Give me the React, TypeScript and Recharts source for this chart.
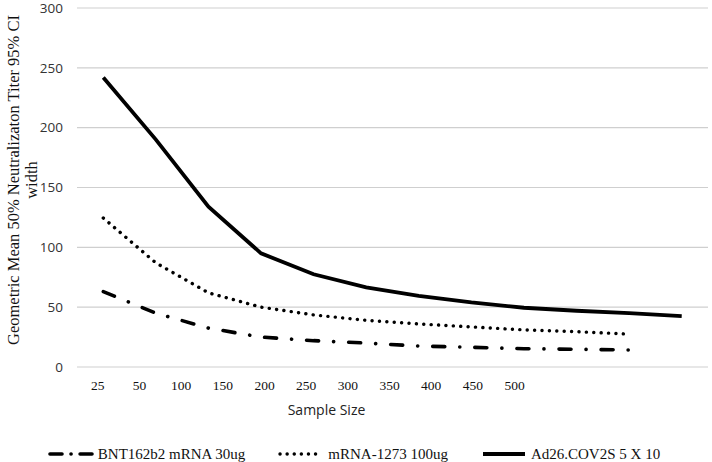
import React from 'react';
import { LineChart, Line, XAxis, YAxis, CartesianGrid, Legend } from 'recharts';

// sample sizes on the x axis (last slot has no label)
const sizes = ['25', '50', '100', '150', '200', '250', '300', '350', '400', '450', '500', ''];
const bnt = [63, 45, 32.5, 25, 22, 20, 17.5, 16.5, 15.3, 14.8, 14.2, null];
const mrna = [124.5, 87, 62, 50, 43.5, 39, 36, 33.5, 31, 29.5, 27.5, null];
const ad26 = [242, 190, 134, 95, 77.5, 66.5, 59.5, 54, 49.5, 47, 45, 42.5];
const yTicks = [0, 50, 100, 150, 200, 250, 300];

const seriesNames = ['BNT162b2 mRNA 30ug', 'mRNA-1273 100ug', 'Ad26.COV2S 5 X 10'];

const data = sizes.map((s, i) => ({ size: s, bnt: bnt[i], mrna: mrna[i], ad26: ad26[i] }));

const styles = [
  { key: 'bnt', dash: '12 15 0.1 15', legendDash: '12 9 0.1 9', width: 3.6 },
  { key: 'mrna', dash: '0.1 7.3', legendDash: '0.1 7', width: 3.4 },
  { key: 'ad26', dash: undefined, legendDash: undefined, width: 3.8 },
];

const YTitle = () => (
  <g fontFamily="'Liberation Serif', 'Times New Roman', serif" fontSize={16.5} fill="#111">
    <text x={13} y={180} transform="rotate(-90, 13, 180)" textAnchor="middle" dominantBaseline="central">
      Geometric Mean 50% Neutralizaton Titer 95% CI
    </text>
    <text x={31} y={180} transform="rotate(-90, 31, 180)" textAnchor="middle" dominantBaseline="central">
      width
    </text>
  </g>
);

const LegendContent = () => (
  <div
    style={{
      height: 24,
      display: 'flex',
      justifyContent: 'center',
      alignItems: 'flex-end',
      gap: 33,
      fontFamily: "'Liberation Serif', 'Times New Roman', serif",
      fontSize: 15,
      color: '#111',
    }}
  >
    {styles.map((st, i) => (
      <div key={st.key} style={{ display: 'flex', alignItems: 'center', height: 16 }}>
        <svg width={46} height={10} style={{ marginRight: 4 }}>
          <line
            x1={2}
            x2={44}
            y1={5}
            y2={5}
            stroke="#000"
            strokeWidth={st.width}
            strokeDasharray={st.legendDash}
            strokeLinecap={st.dash ? 'round' : 'butt'}
          />
        </svg>
        <span style={{ lineHeight: '16px', whiteSpace: 'nowrap' }}>{seriesNames[i]}</span>
      </div>
    ))}
  </div>
);

export default function App() {
  return (
    <div style={{ position: 'absolute', left: 0, top: 0, background: '#fff' }}>
      <LineChart width={712} height={462} data={data} margin={{ top: 8, right: 4, left: 0, bottom: 0 }}>
        <CartesianGrid vertical={false} stroke="#cfcfcf" strokeWidth={1.2} />
        <XAxis dataKey="size" scale="band" hide height={0} />
        <XAxis
          xAxisId="lbl"
          dataKey="size"
          scale="band"
          height={71}
          padding={{ left: 0, right: 131 }}
          axisLine={false}
          tickLine={false}
          tickSize={0}
          tickMargin={13}
          interval={0}
          tick={{ fontFamily: "'Liberation Serif', 'Times New Roman', serif", fontSize: 13.5, fill: '#111' }}
          label={{
            value: 'Sample Size',
            position: 'insideBottom',
            offset: 23,
            dx: -66,
            style: { fontFamily: "'Open Sans', sans-serif", fontSize: 14, fill: '#222' },
          }}
        />
        <YAxis
          width={77}
          domain={[0, 300]}
          ticks={yTicks}
          axisLine={false}
          tickLine={false}
          tickSize={0}
          tickMargin={14}
          tick={{ fontFamily: "'Open Sans', sans-serif", fontSize: 13.5, fill: '#333' }}
          label={<YTitle />}
        />
        <Legend verticalAlign="bottom" content={<LegendContent />} />
        {styles.map((st, i) => (
          <Line
            key={st.key}
            dataKey={st.key}
            name={seriesNames[i]}
            type="linear"
            stroke="#000"
            strokeWidth={st.width}
            strokeDasharray={st.dash}
            strokeLinecap={st.dash ? 'round' : 'butt'}
            dot={false}
            activeDot={false}
            isAnimationActive={false}
          />
        ))}
      </LineChart>
    </div>
  );
}
